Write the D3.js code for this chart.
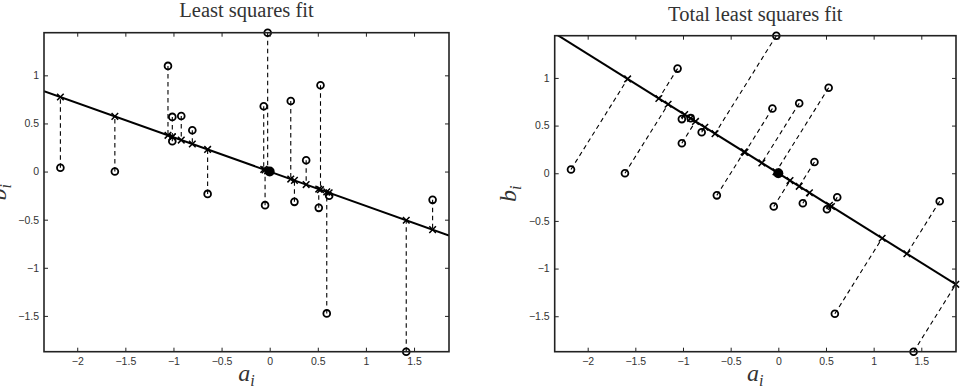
<!DOCTYPE html>
<html>
<head>
<meta charset="utf-8">
<script src="https://cdn.jsdelivr.net/npm/d3@7"></script>
<style>
  body { margin: 0; background: #fff; }
  svg { display: block; }
  .tick text { font-family: "Liberation Sans", Arial, sans-serif; font-size: 10.5px; fill: #333; }
</style>
</head>
<body>
<div id="chart"></div>
<script>
var svgWidth = 966;
var svgHeight = 388;

// data points (a_i, b_i)
var aVals = [-2.175, -1.609, -1.057, -1.012, -1.012, -0.919, -0.804, -0.645, -0.062, -0.048,
             -0.021, 0.219, 0.257, 0.379, 0.528, 0.510, 0.618, 0.593, 1.419, 1.693];
var bVals = [0.040, 0.000, 1.098, 0.568, 0.315, 0.578, 0.430, -0.232, 0.679, -0.349,
             1.443, 0.734, -0.315, 0.118, 0.897, -0.377, -0.252, -1.474, -1.872, -0.294];

var xTicks = [-2, -1.5, -1, -0.5, 0, 0.5, 1, 1.5];
var yTicks = [-1.5, -1, -0.5, 0, 0.5, 1];
var titles = ["Least squares fit", "Total least squares fit"];

var points = aVals.map(function(a, i) { return {a: a, b: bVals[i]}; });

// sums for the fits (lines through the origin)
var saa = d3.sum(points, d => d.a * d.a);
var sbb = d3.sum(points, d => d.b * d.b);
var sab = d3.sum(points, d => d.a * d.b);

// ordinary least squares: b = slope * a
var lsSlope = sab / saa;

// total least squares: main eigenvector of the scatter matrix
var half = (saa - sbb) / 2;
var lam = (saa + sbb) / 2 + Math.sqrt(half * half + sab * sab);
var ux = sab, uy = lam - saa;
var un = Math.sqrt(ux * ux + uy * uy);
ux = ux / un; uy = uy / un;

var panels = [
  {title: titles[0], left: 44, top: 32.7, right: 449, bottom: 351.7, titleY: 17,
   slope: lsSlope,
   project: p => ({a: p.a, b: lsSlope * p.a})},
  {title: titles[1], left: 554.7, top: 35.7, right: 956, bottom: 351.7, titleY: 21,
   slope: uy / ux,
   project: function(p) { var t = p.a * ux + p.b * uy; return {a: t * ux, b: t * uy}; }}
];

var svg = d3.select("#chart")
  .append("svg")
  .attr("width", svgWidth)
  .attr("height", svgHeight);

var fmt = d3.format("~g");

panels.forEach(function(p, idx) {
  var w = p.right - p.left;
  var h = p.bottom - p.top;

  // axis equal, tight in y
  var yExt = d3.extent(bVals);
  var k = h / (yExt[1] - yExt[0]);
  var aExt = d3.extent(aVals);
  var xc = (aExt[0] + aExt[1]) / 2;
  var xSpan = w / k;

  var x = d3.scaleLinear().domain([xc - xSpan / 2, xc + xSpan / 2]).range([0, w]);
  var y = d3.scaleLinear().domain(yExt).range([h, 0]);

  var g = svg.append("g")
    .attr("transform", `translate(${p.left}, ${p.top})`);

  g.append("clipPath")
    .attr("id", "clip" + idx)
    .append("rect")
    .attr("width", w)
    .attr("height", h);

  var plot = g.append("g").attr("clip-path", `url(#clip${idx})`);

  // dashed residuals
  plot.selectAll(".resid")
    .data(points)
    .enter()
    .append("line")
    .attr("x1", d => x(d.a))
    .attr("y1", d => y(d.b))
    .attr("x2", d => x(p.project(d).a))
    .attr("y2", d => y(p.project(d).b))
    .attr("stroke", "#000")
    .attr("stroke-width", 1.1)
    .attr("stroke-dasharray", "4.5,3.5");

  // fit line
  var dom = x.domain();
  plot.append("line")
    .attr("x1", x(dom[0]))
    .attr("y1", y(p.slope * dom[0]))
    .attr("x2", x(dom[1]))
    .attr("y2", y(p.slope * dom[1]))
    .attr("stroke", "#000")
    .attr("stroke-width", 2);

  // projected points
  g.selectAll(".cross")
    .data(points)
    .enter()
    .append("path")
    .attr("transform", d => `translate(${x(p.project(d).a)}, ${y(p.project(d).b)})`)
    .attr("d", "M-3.3,-3.3L3.3,3.3M-3.3,3.3L3.3,-3.3")
    .attr("stroke", "#000")
    .attr("stroke-width", 1.5);

  // data points
  g.selectAll(".pt")
    .data(points)
    .enter()
    .append("circle")
    .attr("cx", d => x(d.a))
    .attr("cy", d => y(d.b))
    .attr("r", 3.4)
    .attr("fill", "none")
    .attr("stroke", "#000")
    .attr("stroke-width", 1.8);

  // origin
  g.append("circle")
    .attr("cx", x(0))
    .attr("cy", y(0))
    .attr("r", 5)
    .attr("fill", "#000");

  // axes, ticks pointing inwards on all four sides
  g.append("g")
    .attr("transform", `translate(0, ${h})`)
    .call(d3.axisBottom(x).tickValues(xTicks).tickFormat(fmt).tickSize(-4).tickPadding(6))
    .call(a => a.select(".domain").remove());
  g.append("g")
    .call(d3.axisTop(x).tickValues(xTicks).tickFormat("").tickSize(-4))
    .call(a => a.select(".domain").remove());
  g.append("g")
    .call(d3.axisLeft(y).tickValues(yTicks).tickFormat(fmt).tickSize(-4).tickPadding(5))
    .call(a => a.select(".domain").remove());
  g.append("g")
    .attr("transform", `translate(${w}, 0)`)
    .call(d3.axisRight(y).tickValues(yTicks).tickFormat("").tickSize(-4))
    .call(a => a.select(".domain").remove());
  g.selectAll(".tick line").attr("stroke", "#222").attr("stroke-width", 1);

  g.append("rect")
    .attr("width", w)
    .attr("height", h)
    .attr("fill", "none")
    .attr("stroke", "#222")
    .attr("stroke-width", 1.6);

  // title
  svg.append("text")
    .attr("x", (p.left + p.right) / 2)
    .attr("y", p.titleY)
    .attr("text-anchor", "middle")
    .attr("font-family", "Liberation Serif, Times New Roman, serif")
    .attr("font-size", 20.5)
    .attr("fill", "#333")
    .text(p.title);

  // x label a_i
  var xl = svg.append("text")
    .attr("x", (p.left + p.right) / 2)
    .attr("y", 381)
    .attr("text-anchor", "middle")
    .attr("font-family", "Liberation Serif, Times New Roman, serif")
    .attr("font-style", "italic")
    .attr("font-size", 24)
    .attr("fill", "#333");
  xl.append("tspan").text("a");
  xl.append("tspan").attr("dy", 5).attr("font-size", 16).text("i");

  // y label b_i (cut by the left edge on the first panel, as in the original)
  var yl = svg.append("text")
    .attr("transform", `translate(${p.left - 38.5}, ${(p.top + p.bottom) / 2}) rotate(-90)`)
    .attr("text-anchor", "middle")
    .attr("font-family", "Liberation Serif, Times New Roman, serif")
    .attr("font-style", "italic")
    .attr("font-size", 24)
    .attr("fill", "#333");
  yl.append("tspan").text("b");
  yl.append("tspan").attr("dy", 5).attr("font-size", 16).text("i");
});
</script>
</body>
</html>
